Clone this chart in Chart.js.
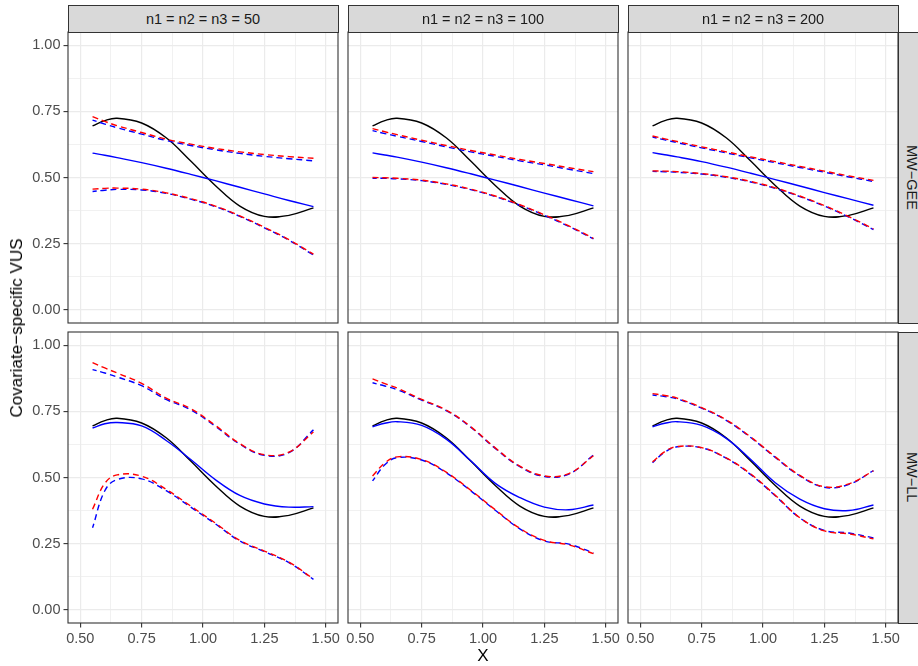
<!DOCTYPE html>
<html>
<head>
<meta charset="utf-8">
<script src="https://cdn.jsdelivr.net/npm/chart.js@4.4.1/dist/chart.umd.min.js"></script>
<style>
  html, body { margin:0; padding:0; background:#ffffff; }
  #wrap { position:relative; width:918px; height:666px; overflow:hidden; background:#ffffff; font-family:"Liberation Sans", Arial, sans-serif; }
  .strip { position:absolute; box-sizing:border-box; background:#D9D9D9; border:1.1px solid #333333; color:#1A1A1A; font-size:14.5px; display:flex; align-items:center; justify-content:center; white-space:nowrap; }
  .vstrip span { writing-mode:vertical-rl; }
  .title { position:absolute; color:#000000; white-space:nowrap; font-size:17px; }
</style>
</head>
<body>
<div id="wrap"></div>
<script>
// ---------------- data ----------------
const colLabels = ["n1 = n2 = n3 = 50", "n1 = n2 = n3 = 100", "n1 = n2 = n3 = 200"];
const rowLabels = ["MW\u2212GEE", "MW\u2212LL"];
const xTitle = "X";
const yTitle = "Covariate\u2212specific VUS";
const xTickVals = [0.5, 0.625, 0.75, 0.875, 1.0, 1.125, 1.25, 1.375, 1.5];
const yTickVals = [0, 0.125, 0.25, 0.375, 0.5, 0.625, 0.75, 0.875, 1.0];

const xs = [0.55, 0.60, 0.65, 0.75, 0.85, 0.95, 1.05, 1.15, 1.25, 1.35, 1.45];
const trueVUS = [0.695, 0.715, 0.724, 0.706, 0.650, 0.562, 0.470, 0.392, 0.353, 0.357, 0.385];

// MW-GEE, n = 50
const gee50Est    = [0.592, 0.584, 0.575, 0.556, 0.535, 0.512, 0.488, 0.463, 0.438, 0.413, 0.390];
const gee50RedHi  = [0.730, 0.712, 0.696, 0.670, 0.645, 0.626, 0.610, 0.597, 0.587, 0.579, 0.573];
const gee50BlueHi = [0.717, 0.702, 0.688, 0.664, 0.640, 0.621, 0.605, 0.591, 0.580, 0.571, 0.563];
const gee50RedLo  = [0.456, 0.459, 0.460, 0.456, 0.442, 0.420, 0.392, 0.355, 0.312, 0.265, 0.210];
const gee50BlueLo = [0.447, 0.452, 0.455, 0.453, 0.440, 0.418, 0.390, 0.353, 0.310, 0.263, 0.207];
// MW-GEE, n = 100
const gee100Est    = [0.593, 0.585, 0.577, 0.558, 0.537, 0.514, 0.490, 0.466, 0.441, 0.417, 0.393];
const gee100RedHi  = [0.685, 0.673, 0.662, 0.641, 0.621, 0.602, 0.585, 0.568, 0.553, 0.537, 0.522];
const gee100BlueHi = [0.677, 0.666, 0.656, 0.636, 0.616, 0.597, 0.580, 0.563, 0.548, 0.531, 0.515];
const gee100RedLo  = [0.500, 0.499, 0.497, 0.490, 0.476, 0.456, 0.430, 0.397, 0.359, 0.317, 0.270];
const gee100BlueLo = [0.497, 0.497, 0.495, 0.488, 0.474, 0.454, 0.428, 0.395, 0.357, 0.315, 0.268];
// MW-GEE, n = 200
const gee200Est    = [0.594, 0.586, 0.578, 0.560, 0.539, 0.516, 0.492, 0.468, 0.443, 0.419, 0.395];
const gee200RedHi  = [0.657, 0.646, 0.636, 0.616, 0.597, 0.578, 0.560, 0.542, 0.524, 0.506, 0.489];
const gee200BlueHi = [0.653, 0.642, 0.632, 0.612, 0.593, 0.574, 0.556, 0.538, 0.520, 0.502, 0.485];
const gee200RedLo  = [0.525, 0.524, 0.522, 0.515, 0.503, 0.485, 0.461, 0.430, 0.394, 0.352, 0.306];
const gee200BlueLo = [0.523, 0.522, 0.520, 0.513, 0.501, 0.483, 0.459, 0.428, 0.392, 0.350, 0.303];
// MW-LL, n = 50
const ll50Est    = [0.687, 0.703, 0.708, 0.695, 0.640, 0.568, 0.492, 0.432, 0.400, 0.388, 0.390];
const ll50RedHi  = [0.934, 0.914, 0.895, 0.856, 0.800, 0.760, 0.697, 0.628, 0.586, 0.596, 0.672];
const ll50BlueHi = [0.908, 0.895, 0.880, 0.847, 0.795, 0.756, 0.694, 0.626, 0.584, 0.594, 0.680];
const ll50RedLo  = [0.380, 0.478, 0.510, 0.505, 0.455, 0.392, 0.328, 0.262, 0.222, 0.180, 0.117];
const ll50BlueLo = [0.310, 0.450, 0.492, 0.495, 0.450, 0.388, 0.325, 0.260, 0.220, 0.178, 0.115];
// MW-LL, n = 100
const ll100Est    = [0.692, 0.705, 0.711, 0.697, 0.645, 0.563, 0.478, 0.424, 0.388, 0.378, 0.396];
const ll100RedHi  = [0.873, 0.855, 0.838, 0.795, 0.755, 0.692, 0.612, 0.543, 0.506, 0.515, 0.582];
const ll100BlueHi = [0.858, 0.846, 0.832, 0.793, 0.753, 0.690, 0.610, 0.541, 0.504, 0.513, 0.585];
const ll100RedLo  = [0.506, 0.555, 0.578, 0.568, 0.520, 0.452, 0.378, 0.308, 0.262, 0.245, 0.212];
const ll100BlueLo = [0.487, 0.548, 0.575, 0.566, 0.518, 0.450, 0.376, 0.306, 0.260, 0.248, 0.215];
// MW-LL, n = 200
const ll200Est    = [0.692, 0.705, 0.711, 0.697, 0.648, 0.568, 0.480, 0.418, 0.382, 0.375, 0.396];
const ll200RedHi  = [0.817, 0.810, 0.800, 0.764, 0.718, 0.653, 0.578, 0.508, 0.465, 0.476, 0.525];
const ll200BlueHi = [0.812, 0.806, 0.797, 0.762, 0.716, 0.651, 0.576, 0.506, 0.463, 0.474, 0.526];
const ll200RedLo  = [0.559, 0.598, 0.617, 0.613, 0.574, 0.513, 0.433, 0.348, 0.298, 0.287, 0.268];
const ll200BlueLo = [0.556, 0.596, 0.616, 0.612, 0.573, 0.511, 0.431, 0.347, 0.300, 0.290, 0.272];

// ---------------- layout ----------------
const panelX = [68, 348, 628];
const panelY = [32, 332];
const PW = 270, PH = 291;
const FONT = '"Liberation Sans", Arial, sans-serif';

const panels = [
  {row:0, col:0, est:gee50Est,  rHi:gee50RedHi,  bHi:gee50BlueHi,  rLo:gee50RedLo,  bLo:gee50BlueLo},
  {row:0, col:1, est:gee100Est, rHi:gee100RedHi, bHi:gee100BlueHi, rLo:gee100RedLo, bLo:gee100BlueLo},
  {row:0, col:2, est:gee200Est, rHi:gee200RedHi, bHi:gee200BlueHi, rLo:gee200RedLo, bLo:gee200BlueLo},
  {row:1, col:0, est:ll50Est,   rHi:ll50RedHi,   bHi:ll50BlueHi,   rLo:ll50RedLo,   bLo:ll50BlueLo},
  {row:1, col:1, est:ll100Est,  rHi:ll100RedHi,  bHi:ll100BlueHi,  rLo:ll100RedLo,  bLo:ll100BlueLo},
  {row:1, col:2, est:ll200Est,  rHi:ll200RedHi,  bHi:ll200BlueHi,  rLo:ll200RedLo,  bLo:ll200BlueLo}
];

const wrap = document.getElementById('wrap');

const isMajor = v => Math.abs(v * 4 - Math.round(v * 4)) < 1e-9;

const borderPlugin = {
  id: 'panelBorder',
  afterDraw(chart) {
    const a = chart.chartArea, ctx = chart.ctx;
    ctx.save();
    ctx.strokeStyle = '#333333';
    ctx.lineWidth = 1.1;
    ctx.strokeRect(a.left, a.top, a.right - a.left, a.bottom - a.top);
    ctx.restore();
  }
};

function series(arr, color, dashed, offset) {
  return {
    data: xs.map((x, i) => ({x: x, y: arr[i]})),
    borderColor: color,
    borderWidth: 1.4,
    borderDash: dashed ? [6, 4] : [],
    borderDashOffset: offset || 0,
    pointRadius: 0,
    tension: 0.4,
    fill: false
  };
}

function gridOpts(show) {
  return {
    color: '#EBEBEB',
    lineWidth: c => isMajor(c.tick.value) ? 1.2 : 0.7,
    drawTicks: show,
    tickLength: 4.5,
    tickWidth: 1.1,
    tickColor: c => (show && isMajor(c.tick.value)) ? '#333333' : 'rgba(0,0,0,0)'
  };
}

panels.forEach(p => {
  const showY = p.col === 0, showX = p.row === 1;
  const lm = showY ? 68 : 0, bm = showX ? 43 : 0;
  const PAD = 2, PR = 16;
  const w = PAD + lm + PW + PR, h = PAD + PH + bm + PAD;
  const canvas = document.createElement('canvas');
  canvas.width = w; canvas.height = h;
  canvas.style.cssText = 'position:absolute;left:' + (panelX[p.col] - lm - PAD) + 'px;top:' + (panelY[p.row] - PAD) + 'px;width:' + w + 'px;height:' + h + 'px;';
  wrap.appendChild(canvas);

  new Chart(canvas, {
    type: 'line',
    data: {
      datasets: [
        series(p.rHi, '#FF0000', true, 0),
        series(p.bHi, '#0000FF', true, 2),
        series(p.rLo, '#FF0000', true, 0),
        series(p.bLo, '#0000FF', true, 2),
        series(p.est, '#0000FF', false),
        series(trueVUS, '#000000', false)
      ]
    },
    options: {
      responsive: false,
      animation: false,
      devicePixelRatio: 1,
      events: [],
      layout: { padding: { left: PAD, top: PAD, right: PR, bottom: PAD } },
      plugins: { legend: { display: false }, tooltip: { enabled: false } },
      scales: {
        x: {
          type: 'linear', min: 0.45, max: 1.55,
          afterBuildTicks: s => { s.ticks = xTickVals.map(v => ({value: v})); },
          afterFit: s => { s.height = bm; s.paddingLeft = 0; s.paddingRight = 0; },
          border: { display: false },
          grid: gridOpts(showX),
          ticks: {
            display: showX, autoSkip: false, maxRotation: 0, minRotation: 0, padding: 3,
            color: '#4D4D4D', font: { family: FONT, size: 14.5 },
            callback: v => isMajor(v) ? v.toFixed(2) : ''
          }
        },
        y: {
          type: 'linear', min: -0.05, max: 1.05,
          afterBuildTicks: s => { s.ticks = yTickVals.map(v => ({value: v})); },
          afterFit: s => { s.width = lm; s.paddingTop = 0; s.paddingBottom = 0; },
          border: { display: false },
          grid: gridOpts(showY),
          ticks: {
            display: showY, autoSkip: false, padding: 3,
            color: '#4D4D4D', font: { family: FONT, size: 14.5 },
            callback: v => isMajor(v) ? v.toFixed(2) : ''
          }
        }
      }
    },
    plugins: [borderPlugin]
  });
});

// strips
colLabels.forEach((t, c) => {
  const d = document.createElement('div');
  d.className = 'strip';
  d.style.left = (panelX[c] - 0.5) + 'px';
  d.style.top = '5px';
  d.style.width = (PW + 1) + 'px';
  d.style.height = (panelY[0] - 5 + 1) + 'px';
  d.textContent = t;
  wrap.appendChild(d);
});
rowLabels.forEach((t, r) => {
  const d = document.createElement('div');
  d.className = 'strip vstrip';
  d.style.left = (panelX[2] + PW - 0.5) + 'px';
  d.style.top = (panelY[r] - 0.5) + 'px';
  d.style.width = '28.5px';
  d.style.height = (PH + 1) + 'px';
  const s = document.createElement('span');
  s.textContent = t;
  d.appendChild(s);
  wrap.appendChild(d);
});

// axis titles
const xt = document.createElement('div');
xt.className = 'title';
xt.textContent = xTitle;
xt.style.left = (panelX[1] + PW / 2) + 'px';
xt.style.top = '656px';
xt.style.transform = 'translate(-50%,-50%)';
wrap.appendChild(xt);

const yt = document.createElement('div');
yt.className = 'title';
yt.textContent = yTitle;
yt.style.left = '17px';
yt.style.top = ((panelY[0] + panelY[1] + PH) / 2) + 'px';
yt.style.transform = 'translate(-50%,-50%) rotate(-90deg)';
wrap.appendChild(yt);
</script>
</body>
</html>
